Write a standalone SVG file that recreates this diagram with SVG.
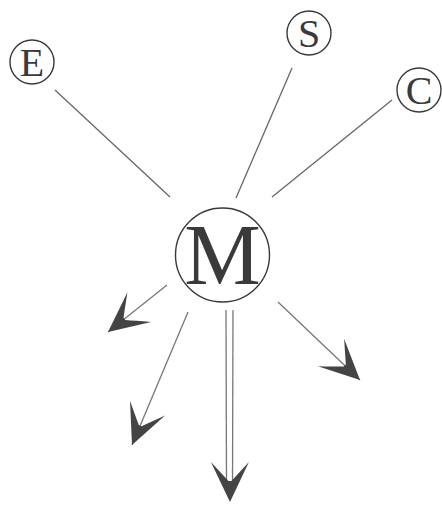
<svg xmlns="http://www.w3.org/2000/svg" width="442" height="505" viewBox="0 0 442 505">
<style>
.ring{fill:none;stroke:#3a3a3a;stroke-width:1.4}
.lbl{font-family:"Liberation Serif","Times New Roman",serif;fill:#3a3a3a;text-anchor:middle}
.ln{fill:none;stroke:#666;stroke-width:1.3}
.sh{fill:none;stroke:#777;stroke-width:1.3}
</style>
<defs>
<marker id="ah" markerUnits="userSpaceOnUse" markerWidth="50" markerHeight="50" viewBox="-45 -25 50 50" refX="0" refY="0" orient="auto" overflow="visible">
<path d="M0,0 L-40,-19 Q-28,-8 -21,-1.5 L-21,1.5 Q-28,8 -40,19 Z" fill="#444"/>
</marker>
</defs>
<rect width="442" height="505" fill="#fff"/>
<g id="connectors">
<line class="ln" x1="55" y1="90" x2="170" y2="197"/>
<line class="ln" x1="292" y1="68" x2="236" y2="198"/>
<line class="ln" x1="392" y1="100" x2="272" y2="197"/>
<line class="sh" x1="167" y1="285" x2="108" y2="332" marker-end="url(#ah)"/>
<line class="sh" x1="188" y1="312" x2="132" y2="445" marker-end="url(#ah)"/>
<line class="sh" x1="226" y1="310" x2="226.5" y2="488"/>
<line class="sh" x1="233" y1="310" x2="232.5" y2="488"/>
<line x1="229.5" y1="310" x2="230" y2="502" stroke="none" marker-end="url(#ah)"/>
<line class="sh" x1="278" y1="302" x2="360" y2="380" marker-end="url(#ah)"/>
</g>
<g id="E">
<circle class="ring" cx="32" cy="62" r="22"/>
<text class="lbl" x="32" y="76" font-size="40">E</text>
</g>
<g id="S">
<circle class="ring" cx="309" cy="33" r="22"/>
<text class="lbl" x="309" y="47" font-size="40">S</text>
</g>
<g id="C">
<circle class="ring" cx="419" cy="90" r="22"/>
<text class="lbl" x="419" y="104" font-size="40">C</text>
</g>
<g id="M">
<circle class="ring" cx="222.5" cy="255" r="47"/>
<text class="lbl" x="222.5" y="284" font-size="86">M</text>
</g>
</svg>
